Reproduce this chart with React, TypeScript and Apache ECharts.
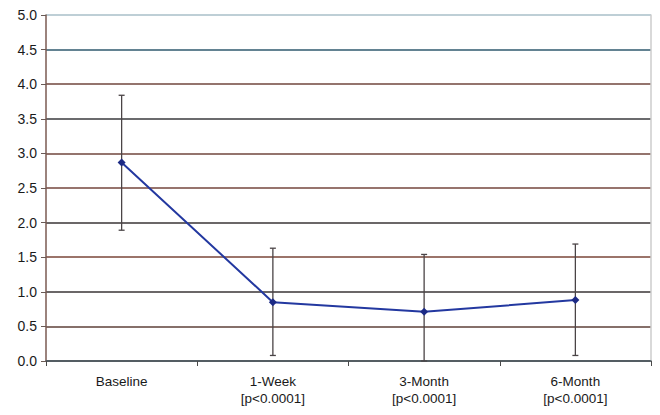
import React, { useEffect, useRef } from "react";
import * as echarts from "echarts";

const categories = ["Baseline", "1-Week\n[p<0.0001]", "3-Month\n[p<0.0001]", "6-Month\n[p<0.0001]"];
const means = [2.87, 0.85, 0.71, 0.88];
const upper = [3.84, 1.63, 1.54, 1.69];
const lower = [1.89, 0.08, 0.0, 0.08];
const gridColors = ["#4a3a36", "#5e4038", "#3a3536", "#7a4638", "#3a3536", "#74463c", "#70463c", "#3a3a3c", "#70463c", "#2f5a6e", "#a9bfc8"];

export default function App() {
  const ref = useRef<HTMLDivElement>(null);
  useEffect(() => {
    if (!ref.current) return;
    const chart = echarts.init(ref.current, undefined, { renderer: "svg" });
    const errData = categories.map((_, i) => [i, lower[i], upper[i]]);
    chart.setOption({
      animation: false,
      grid: { left: 38, right: 1, top: 5, bottom: 42 },
      xAxis: {
        type: "category",
        data: categories,
        boundaryGap: true,
        axisLine: { lineStyle: { color: "#4a5a62", width: 1.5 } },
        axisTick: { show: true, length: 5, lineStyle: { color: "#4a4a4a" } },
        axisLabel: {
          color: "#1a1a1a",
          fontFamily: "Liberation Sans, Arial, sans-serif",
          fontSize: 13.5,
          lineHeight: 17,
          margin: 12,
        },
        splitLine: { show: false },
      },
      yAxis: [
        {
          type: "value",
          min: 0,
          max: 5,
          interval: 0.5,
          axisLine: { show: true, lineStyle: { color: "#7a5a52", width: 1.5 } },
          axisTick: { show: true, length: 5, lineStyle: { color: "#6a5a55" } },
          axisLabel: {
            color: "#1a1a1a",
            fontFamily: "Liberation Sans, Arial, sans-serif",
            fontSize: 14,
            margin: 9,
            formatter: (v: number) => v.toFixed(1),
          },
          splitLine: { show: true, lineStyle: { color: gridColors, width: 1.5 } },
        },
        {
          type: "value",
          min: 0,
          max: 5,
          interval: 0.5,
          position: "right",
          axisLine: { show: true, lineStyle: { color: "#cccccc", width: 1.5 } },
          axisTick: { show: false },
          axisLabel: { show: false },
          splitLine: { show: false },
        },
      ],
      series: [
        {
          type: "custom",
          data: errData,
          z: 1,
          renderItem: (params: any, api: any) => {
            const x = api.value(0);
            const lo = api.coord([x, api.value(1)]);
            const hi = api.coord([x, api.value(2)]);
            const cap = 3;
            const style = { stroke: "#4a4446", lineWidth: 1.3 };
            return {
              type: "group",
              children: [
                { type: "line", shape: { x1: hi[0], y1: hi[1], x2: lo[0], y2: lo[1] }, style },
                { type: "line", shape: { x1: hi[0] - cap, y1: hi[1], x2: hi[0] + cap, y2: hi[1] }, style },
                { type: "line", shape: { x1: lo[0] - cap, y1: lo[1], x2: lo[0] + cap, y2: lo[1] }, style },
              ],
            };
          },
        },
        {
          type: "line",
          data: means,
          z: 3,
          symbol: "diamond",
          symbolSize: 8,
          lineStyle: { color: "#2338a0", width: 2 },
          itemStyle: { color: "#1c2a85" },
        },
      ],
    });
    return () => chart.dispose();
  }, []);
  return <div ref={ref} style={{ width: 644, height: 399 }} />;
}
